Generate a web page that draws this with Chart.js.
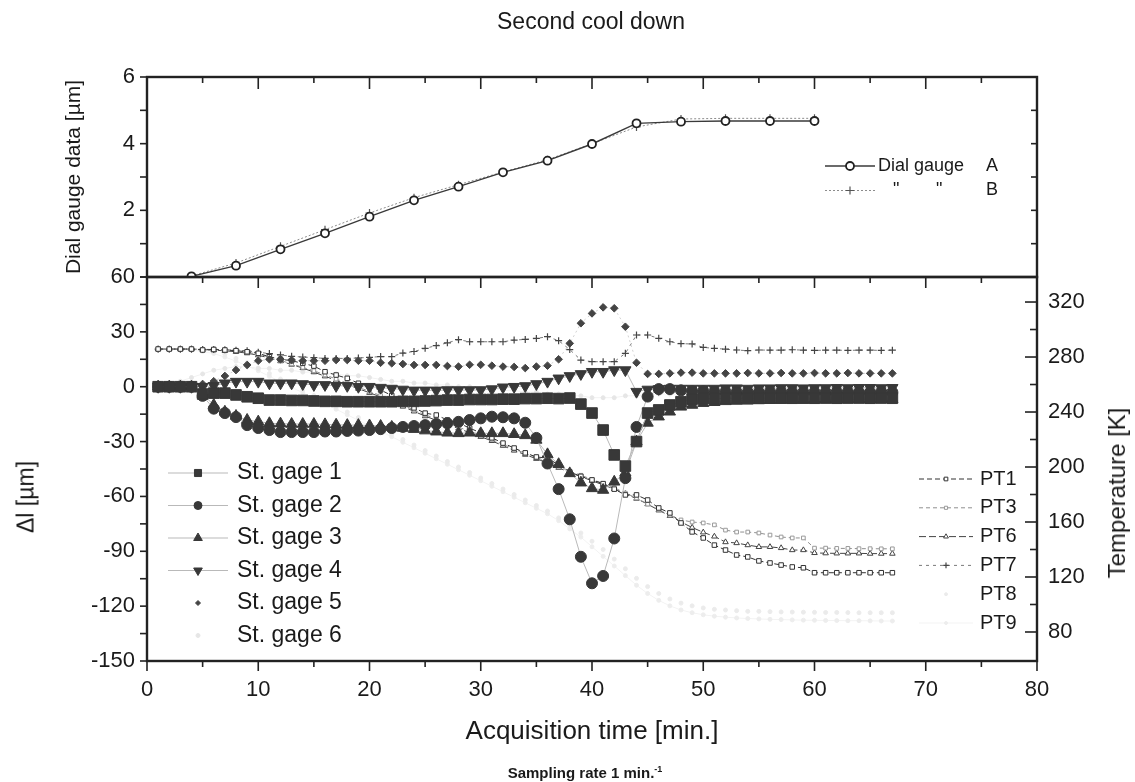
<!DOCTYPE html>
<html lang="en">
<head>
  <meta charset="UTF-8">
  <title>Second cool down</title>
  <script src="https://cdn.jsdelivr.net/npm/chart.js"></script>
  <style>
    body { margin: 0; background: #fff; }
    #page { position: relative; width: 1135px; height: 782px; font-family: "Liberation Sans", Arial, sans-serif; color: #1a1a1a; }
    canvas { position: absolute; left: 0; top: 0; }
    .txt { position: absolute; white-space: nowrap; transform: translate(-50%, -50%); }
    .vert { transform: translate(-50%, -50%) rotate(-90deg); }
  </style>
</head>
<body>
<div id="page">
  <canvas id="strainChart" width="1135" height="782"></canvas>
  <canvas id="dialChart" width="1135" height="300"></canvas>
  <div class="txt" style="left:591px; top:21px; font-size:23px;">Second cool down</div>
  <div class="txt vert" style="left:26px; top:497px; font-size:23px;">&Delta;l [&micro;m]</div>
  <div class="txt vert" style="left:1117px; top:493px; font-size:24px;">Temperature [K]</div>
  <div class="txt" style="left:585px; top:772px; font-size:15px; font-weight:bold;">Sampling rate 1 min.<sup style="font-size:9px;">-1</sup></div>
</div>

<script>
  // minutes of acquisition (one sample per minute)
  const sampleTime = [1, 2, 3, 4, 5, 6, 7, 8, 9, 10, 11, 12, 13, 14, 15, 16, 17, 18, 19, 20,
    21, 22, 23, 24, 25, 26, 27, 28, 29, 30, 31, 32, 33, 34, 35, 36, 37, 38, 39, 40,
    41, 42, 43, 44, 45, 46, 47, 48, 49, 50, 51, 52, 53, 54, 55, 56, 57, 58, 59, 60,
    61, 62, 63, 64, 65, 66, 67];
  const dialTime = [4, 8, 12, 16, 20, 24, 28, 32, 36, 40, 44, 48, 52, 56, 60];

  // dial gauges [um]
  const dialA = [0.02, 0.34, 0.83, 1.31, 1.81, 2.30, 2.71, 3.14, 3.49, 3.99, 4.61, 4.66, 4.68, 4.68, 4.68];
  const dialB = [0.03, 0.42, 0.92, 1.42, 1.92, 2.38, 2.77, 3.15, 3.52, 4.00, 4.50, 4.74, 4.76, 4.76, 4.76];

  // strain gages, delta l [um]
  const gage1 = [0, 0, 0, 0, -4, -3.5, -3.5, -4.5, -5.5, -6.3,
    -7.3, -7.3, -7.5, -7.5, -7.8, -8, -8, -8.2, -8.2, -8.2,
    -8.2, -8.2, -8, -8, -7.8, -7.6, -7.3, -7.3, -7, -7,
    -7, -6.8, -6.8, -6.5, -6.5, -6.3, -6.5, -6.2, -9.5, -14.4,
    -23.7, -37.3, -43.4, -30, -14.4, -12.7, -10, -8.2, -6.8, -6.5,
    -6.5, -6.3, -6.3, -6.5, -6.3, -6.2, -6.2, -6.3, -6.2, -6.3,
    -6.2, -6.3, -6.2, -6.2, -6.3, -6.2, -6.3];
  const gage2 = [0, 0, 0, 0, -5, -12, -14.4, -16.6, -21, -22.6,
    -23.7, -24.8, -24.8, -24.8, -24.8, -24.5, -24.5, -24.2, -24, -23.7,
    -23.2, -22.6, -22, -21.5, -21, -20.4, -20, -19.2, -18.2, -17.3,
    -16.4, -16.7, -17.3, -19.7, -28, -42, -56, -72.5, -93, -107.5,
    -103.5, -83, -50, -22, -5.4, -1.3, -1.3, -2, -2.5, -2.5,
    -2.8, -2.8, -3, -3, -3, -2.8, -2.8, -3, -3, -3,
    -3, -2.8, -2.8, -3, -3, -2.8, -3];
  const gage3 = [0, 0, 0, 0, -4, -10, -13.7, -16, -18.2, -19.1,
    -20, -20.2, -20.4, -20.4, -20.4, -20.6, -20.8, -21, -21, -21.2,
    -21.5, -22, -22.6, -23.2, -24, -24.6, -25.2, -25.5, -25.2, -25.5,
    -25.5, -25.5, -26, -26.6, -29.1, -37, -42.4, -47.4, -52.5, -55.6,
    -56.5, -52, -47, -30, -19.8, -16.4, -13.7, -11, -10, -9,
    -8.5, -8, -7.8, -7.6, -7.5, -7.4, -7.3, -7.2, -7.2, -7.1,
    -7, -7, -7, -6.9, -6.9, -6.8, -6.8];
  const gage4 = [0, 0, 0, 0, 0, 0.5, 1.9, 2.8, 2.8, 2.8,
    1.9, 1.9, 1.9, 1.5, 1, 1, 0.5, 0.5, 0, 0,
    -0.5, -1, -1.5, -2, -2, -2, -1.8, -1.8, -1.8, -1.8,
    -1.3, -0.3, 0, 0.4, 1.5, 2.8, 4.6, 5.9, 7, 8.2,
    8.2, 9.1, 9.1, -2.7, -1.5, -1.2, -1, -1, -1, -1,
    -1, -0.8, -0.8, -1, -0.8, -0.8, -0.7, -0.7, -0.8, -0.7,
    -0.7, -0.6, -0.7, -0.6, -0.6, -0.7, -0.6];
  const gage5 = [0, 0, 0, 0.5, 1.5, 3, 5.9, 9.1, 11.9, 14.2,
    15, 15, 14.6, 14.2, 14.2, 14.2, 14.6, 14.6, 14.2, 14.2,
    13.1, 12.8, 12.4, 11.9, 11.9, 11.9, 11.3, 11, 12, 12,
    11.5, 11, 10.8, 10.2, 11, 11.5, 15, 23.7, 34.7, 40.1,
    43.4, 42.9, 32.8, 13.1, 7, 7, 7.3, 7.7, 7.7, 7.3,
    7.3, 7.3, 7.3, 7.5, 7.3, 7.3, 7.5, 7.3, 7.3, 7.5,
    7.3, 7.3, 7.5, 7.3, 7.3, 7.3, 7.3];
  const gage6 = [0, 1, 3, 5, 7, 9, 10, 11, 11, 10,
    10, 9, 9, 8, 8, 7, 7, 6, 6, 5,
    4, 3, 3, 2, 2, 1, 1, 0, 0, -1,
    -1, -2, -2, -3, -3, -4, -4, -5, -5, -6,
    -6, -6, -5, -5, -4, -4, -4, -4, -4, -4,
    -4, -4, -3.8, -3.8, -3.6, -3.6, -3.5, -3.5, -3.4, -3.4,
    -3.4, -3.3, -3.3, -3.2, -3.2, -3.2, -3.2];

  // platinum thermometers [K]
  const pt1 = [285.8, 285.8, 285.8, 285.8, 285.1, 285.5, 285.1, 284.6, 283.8, 282.7,
    280.2, 278.4, 277.3, 275.4, 273.4, 269.3, 266.9, 264.5, 260.9, 258.4,
    256, 252, 248, 243, 239.2, 237.8, 234.2, 232.1, 228.3, 224.8,
    221.2, 217.4, 213.8, 210.3, 207.3, 206.5, 201.5, 196.4, 193.2, 190.6,
    187.9, 183.9, 179.7, 179.7, 176, 170.2, 166.6, 159.3, 152.8, 148.4,
    143.2, 139.6, 136, 134.6, 131.7, 130.2, 128.7, 127.3, 126.7, 123.1,
    123.1, 123.1, 123.1, 123.1, 123.1, 123.1, 123.1];
  const pt3 = [285.8, 285.8, 285.8, 285.8, 285.6, 285.4, 285, 284.4, 283.5, 282,
    280, 277.5, 275, 272.5, 270, 267, 264, 261, 258, 255,
    252, 248.5, 245, 241.5, 238, 235, 232, 229, 226, 223,
    220, 216.5, 213, 210, 207, 204, 200.5, 197, 194, 191,
    188, 185, 181, 177.5, 173, 169, 165, 161.5, 160, 159.3,
    157.9, 154.1, 152.7, 152.7, 152, 150.5, 149.1, 148.4, 148.4, 141,
    141, 140.8, 140.8, 140.6, 140.6, 140.5, 140.5];
  const pt6 = [285.8, 285.8, 285.8, 285.8, 285.4, 285, 284.5, 283.8, 282.8, 281.3,
    279.3, 277, 274.5, 272, 269, 266, 263, 260, 257, 254,
    251, 247.5, 244, 240.5, 237, 234, 231, 228, 225, 222,
    219, 215.5, 212, 209, 206, 203, 199.5, 196, 193, 190,
    187, 184, 180.5, 177, 173, 168.5, 164.5, 160, 156, 152.5,
    149.5, 145.4, 144.7, 143.2, 141.9, 141.9, 141.1, 139.6, 139.6, 137.5,
    137.3, 137.2, 137.2, 137.2, 137, 137, 137];
  const pt7 = [285.7, 285.7, 285.7, 285.7, 285.5, 285.5, 285.3, 285, 284.5, 283.5,
    282.5, 281.5, 280.5, 280, 279.5, 279, 279, 279, 279.3, 279.8,
    280.3, 280.3, 282.9, 284, 286.3, 288.3, 290.3, 292.6, 291.1, 291.1,
    291.1, 291.1, 292.3, 292.8, 293.5, 294.8, 291.9, 285.4, 277.8, 276.6,
    276.6, 276.6, 282.7, 296, 296, 293.6, 291.1, 289.7, 289.5, 287,
    286.3, 285.7, 285.1, 284.6, 285.1, 285, 285, 285.3, 285, 284.8,
    285, 285, 284.8, 285, 285, 284.8, 285];
  const pt8 = [285.8, 285.8, 285.8, 285.5, 285, 284, 282, 279, 276, 272,
    268, 264, 260, 256, 252, 248, 244, 240, 236, 232,
    228, 224, 220, 216, 212, 208, 204, 200, 196, 192,
    188, 184, 180, 176, 172, 168, 163, 158, 152, 146,
    140, 133, 126, 119, 113, 108, 104, 101, 99, 97.5,
    96.5, 96, 95.5, 95, 95, 94.8, 94.6, 94.5, 94.4, 94.3,
    94.2, 94.2, 94.1, 94, 94, 94, 94];
  const pt9 = [285.8, 285.8, 285.5, 285, 284, 282.5, 280, 277, 273.5, 270,
    266, 262, 258, 254, 250, 246, 242, 238, 234, 230,
    226, 222, 218, 214, 210, 206, 202, 198, 194, 190,
    186, 182, 178, 174, 170, 166, 161, 155, 149, 142,
    135, 128, 121, 114, 108, 103, 99, 96, 94, 92.5,
    91.5, 90.8, 90.2, 89.8, 89.5, 89.2, 89, 88.8, 88.6, 88.5,
    88.4, 88.3, 88.2, 88.2, 88.1, 88, 88];

  // tick labels
  const timeTicks = [0, 10, 20, 30, 40, 50, 60, 70, 80];
  const dialTicks = [2, 4, 6];
  const strainTicks = [-150, -120, -90, -60, -30, 0, 30, 60];
  const tempTicks = [80, 120, 160, 200, 240, 280, 320];

  const FONT = '"Liberation Sans", Arial, sans-serif';
  const INK = '#1a1a1a';
  Chart.defaults.font.family = FONT;
  Chart.defaults.color = INK;

  function pairs(xs, ys) {
    return xs.map((x, i) => ({ x: x, y: ys[i] }));
  }
  function fixedTicks(list) {
    return scale => { scale.ticks = list.map(v => ({ value: v })); };
  }

  // frame around the plot area plus minor/major tick marks (inward or outward)
  const frameTicks = {
    id: 'frameTicks',
    afterDatasetsDraw(chart, args, opts) {
      const ctx = chart.ctx;
      const a = chart.chartArea;
      ctx.save();
      ctx.strokeStyle = opts.color;
      ctx.lineWidth = opts.tickWidth;
      opts.marks.forEach(m => {
        const scale = chart.scales[m.scale];
        for (let v = m.from; v <= m.to + 1e-9; v += m.step) {
          const p = scale.getPixelForValue(v);
          const isMajor = Math.abs(v / m.major - Math.round(v / m.major)) < 1e-6;
          const len = isMajor ? m.len : m.minorLen;
          ctx.beginPath();
          if (m.side === 'top') { ctx.moveTo(p, a.top); ctx.lineTo(p, a.top + len * m.dir); }
          if (m.side === 'bottom') { ctx.moveTo(p, a.bottom); ctx.lineTo(p, a.bottom - len * m.dir); }
          if (m.side === 'left') { ctx.moveTo(a.left, p); ctx.lineTo(a.left + len * m.dir, p); }
          if (m.side === 'right') { ctx.moveTo(a.right, p); ctx.lineTo(a.right - len * m.dir, p); }
          ctx.stroke();
        }
      });
      ctx.lineWidth = opts.frameWidth;
      ctx.strokeRect(a.left, a.top, a.right - a.left, a.bottom - a.top);
      ctx.restore();
    }
  };

  // legend blocks drawn inside the plot, styled from the datasets
  const sampleLegend = {
    id: 'sampleLegend',
    afterDraw(chart, args, opts) {
      const ctx = chart.ctx;
      const drawPoint = Chart.helpers && Chart.helpers.drawPoint;
      opts.groups.forEach(g => {
        g.rows.forEach((row, i) => {
          const ds = chart.data.datasets[row.dataset];
          const y = g.y + i * g.gap;
          const mx = g.x + g.sample / 2;
          ctx.save();
          if (row.line !== false) {
            ctx.strokeStyle = row.lineColor || ds.borderColor;
            ctx.lineWidth = ds.borderWidth || 1;
            ctx.setLineDash(ds.borderDash || []);
            ctx.beginPath();
            ctx.moveTo(g.x, y);
            ctx.lineTo(g.x + g.sample, y);
            ctx.stroke();
            ctx.setLineDash([]);
          }
          ctx.fillStyle = ds.pointBackgroundColor;
          ctx.strokeStyle = ds.pointBorderColor;
          ctx.lineWidth = ds.pointBorderWidth || 1;
          if (drawPoint) {
            drawPoint(ctx, {
              pointStyle: ds.pointStyle,
              radius: row.radius || ds.pointRadius,
              rotation: ds.pointRotation || 0,
              borderWidth: ds.pointBorderWidth || 1
            }, mx, y);
          }
          ctx.fillStyle = INK;
          ctx.font = g.font;
          ctx.textBaseline = 'middle';
          ctx.textAlign = 'left';
          (row.parts || [[ds.label, g.textX]]).forEach(p => ctx.fillText(p[0], p[1], y));
          ctx.restore();
        });
      });
    }
  };

  const tickFont = { size: 22 };

  // ---------- top panel: dial gauges ----------
  new Chart(document.getElementById('dialChart'), {
    type: 'line',
    data: {
      datasets: [
        {
          label: 'Dial gauge A',
          data: pairs(dialTime, dialA),
          borderColor: '#3a3a3a', borderWidth: 1.4,
          pointStyle: 'circle', pointRadius: 4,
          pointBackgroundColor: '#fff', pointBorderColor: '#222', pointBorderWidth: 1.8
        },
        {
          label: 'Dial gauge B',
          data: pairs(dialTime, dialB),
          borderColor: '#8c8c8c', borderWidth: 1, borderDash: [2, 2],
          pointStyle: 'cross', pointRadius: 4,
          pointBackgroundColor: '#555', pointBorderColor: '#555', pointBorderWidth: 1.2
        }
      ]
    },
    options: {
      responsive: false,
      animation: false,
      events: [],
      layout: { padding: { top: 77, right: 98, bottom: 23, left: 0 } },
      scales: {
        x: { type: 'linear', min: 0, max: 80, display: false },
        y: {
          min: 0, max: 6,
          afterFit: s => { s.width = 147; },
          afterBuildTicks: fixedTicks(dialTicks),
          grid: { display: false },
          border: { display: false },
          ticks: { font: tickFont, padding: 4, color: INK },
          title: { display: true, text: 'Dial gauge data [\u00b5m]', font: { size: 21 }, color: INK, padding: { top: 62, bottom: 0 } }
        }
      },
      plugins: {
        legend: { display: false },
        tooltip: { enabled: false },
        frameTicks: {
          color: '#222', tickWidth: 1.6, frameWidth: 2.4,
          marks: [
            { scale: 'x', side: 'top', from: 0, to: 80, step: 5, major: 10, len: 12, minorLen: 6, dir: 1 },
            { scale: 'y', side: 'left', from: 0, to: 6, step: 1, major: 2, len: 7, minorLen: 7, dir: -1 },
            { scale: 'y', side: 'right', from: 1, to: 5, step: 1, major: 2, len: 6, minorLen: 6, dir: 1 }
          ]
        },
        sampleLegend: {
          groups: [
            {
              x: 825, sample: 50, y: 166, gap: 24.5, textX: 878, font: '18px ' + FONT,
              rows: [
                { dataset: 0, parts: [['Dial gauge', 878], ['A', 986]] },
                { dataset: 1, parts: [['"', 893], ['"', 936], ['B', 986]] }
              ]
            }
          ]
        }
      }
    },
    plugins: [frameTicks, sampleLegend]
  });

  // ---------- bottom panel: strain gages and thermometers ----------
  function gageSet(label, values, style, radius, rotation) {
    return {
      label: label, data: pairs(sampleTime, values), yAxisID: 'y', order: 1,
      borderColor: '#b9b9b9', borderWidth: 1,
      pointStyle: style, pointRadius: radius, pointRotation: rotation || 0,
      pointBackgroundColor: '#383838', pointBorderColor: '#383838', pointBorderWidth: 1
    };
  }

  new Chart(document.getElementById('strainChart'), {
    type: 'line',
    data: {
      datasets: [
        gageSet('St. gage 1', gage1, 'rect', 7.5),
        gageSet('St. gage 2', gage2, 'circle', 5.5),
        gageSet('St. gage 3', gage3, 'triangle', 6.5),
        gageSet('St. gage 4', gage4, 'triangle', 6.5, 180),
        {
          label: 'St. gage 5', data: pairs(sampleTime, gage5), yAxisID: 'y', order: 1,
          borderColor: '#d2d2d2', borderWidth: 1, borderDash: [2, 3],
          pointStyle: 'rectRot', pointRadius: 3.8,
          pointBackgroundColor: '#444', pointBorderColor: '#444', pointBorderWidth: 1
        },
        {
          label: 'St. gage 6', data: pairs(sampleTime, gage6), yAxisID: 'y', order: 3,
          borderColor: '#f2f2f2', borderWidth: 1,
          pointStyle: 'circle', pointRadius: 2,
          pointBackgroundColor: '#e6e6e6', pointBorderColor: '#e6e6e6', pointBorderWidth: 1
        },
        {
          label: 'PT1', data: pairs(sampleTime, pt1), yAxisID: 'yT', order: 2,
          borderColor: '#333', borderWidth: 1, borderDash: [5, 3],
          pointStyle: 'rect', pointRadius: 3.2,
          pointBackgroundColor: '#fff', pointBorderColor: '#333', pointBorderWidth: 1
        },
        {
          label: 'PT3', data: pairs(sampleTime, pt3), yAxisID: 'yT', order: 2,
          borderColor: '#8f8f8f', borderWidth: 1, borderDash: [4, 3],
          pointStyle: 'rect', pointRadius: 2.6,
          pointBackgroundColor: '#fff', pointBorderColor: '#9a9a9a', pointBorderWidth: 1
        },
        {
          label: 'PT6', data: pairs(sampleTime, pt6), yAxisID: 'yT', order: 2,
          borderColor: '#444', borderWidth: 1, borderDash: [7, 3],
          pointStyle: 'triangle', pointRadius: 3.2,
          pointBackgroundColor: '#fff', pointBorderColor: '#444', pointBorderWidth: 1
        },
        {
          label: 'PT7', data: pairs(sampleTime, pt7), yAxisID: 'yT', order: 2,
          borderColor: '#7a7a7a', borderWidth: 1, borderDash: [3, 4],
          pointStyle: 'cross', pointRadius: 3.5,
          pointBackgroundColor: '#444', pointBorderColor: '#444', pointBorderWidth: 1.2
        },
        {
          label: 'PT8', data: pairs(sampleTime, pt8), yAxisID: 'yT', order: 3,
          showLine: false, borderColor: '#ececec', borderWidth: 1,
          pointStyle: 'circle', pointRadius: 2,
          pointBackgroundColor: '#ebebeb', pointBorderColor: '#ebebeb', pointBorderWidth: 1
        },
        {
          label: 'PT9', data: pairs(sampleTime, pt9), yAxisID: 'yT', order: 3,
          borderColor: '#f3f3f3', borderWidth: 1,
          pointStyle: 'circle', pointRadius: 2,
          pointBackgroundColor: '#ededed', pointBorderColor: '#ededed', pointBorderWidth: 1
        }
      ]
    },
    options: {
      responsive: false,
      animation: false,
      events: [],
      layout: { padding: { top: 277, right: 0, bottom: 0, left: 0 } },
      scales: {
        x: {
          type: 'linear', min: 0, max: 80,
          afterFit: s => { s.height = 121; },
          afterBuildTicks: fixedTicks(timeTicks),
          grid: { display: false },
          border: { display: false },
          ticks: { font: tickFont, padding: 8, color: INK, maxRotation: 0 },
          title: { display: true, text: 'Acquisition time [min.]', font: { size: 26 }, color: INK, padding: { top: 0, bottom: 35 } }
        },
        y: {
          position: 'left', min: -150, max: 60,
          afterFit: s => { s.width = 147; },
          afterBuildTicks: fixedTicks(strainTicks),
          grid: { display: false },
          border: { display: false },
          ticks: { font: tickFont, padding: 4, color: INK }
        },
        yT: {
          position: 'right', min: 58.9, max: 338.2,
          afterFit: s => { s.width = 98; },
          afterBuildTicks: fixedTicks(tempTicks),
          grid: { display: false },
          border: { display: false },
          ticks: { font: tickFont, padding: 3, color: INK }
        }
      },
      plugins: {
        legend: { display: false },
        tooltip: { enabled: false },
        frameTicks: {
          color: '#222', tickWidth: 1.6, frameWidth: 2.4,
          marks: [
            { scale: 'x', side: 'top', from: 0, to: 80, step: 5, major: 10, len: 11, minorLen: 6, dir: 1 },
            { scale: 'x', side: 'bottom', from: 0, to: 80, step: 5, major: 10, len: 10, minorLen: 6, dir: -1 },
            { scale: 'y', side: 'left', from: -150, to: 60, step: 15, major: 30, len: 7, minorLen: 7, dir: -1 },
            { scale: 'yT', side: 'right', from: 80, to: 320, step: 20, major: 40, len: 12, minorLen: 7, dir: 1 }
          ]
        },
        sampleLegend: {
          groups: [
            {
              x: 168, sample: 60, y: 473, gap: 32.5, textX: 237, font: '23px ' + FONT,
              rows: [
                { dataset: 0, radius: 5 },
                { dataset: 1, radius: 4 },
                { dataset: 2, radius: 5 },
                { dataset: 3, radius: 5 },
                { dataset: 4, line: false, radius: 2.5 },
                { dataset: 5, line: false, radius: 2 }
              ]
            },
            {
              x: 919, sample: 54, y: 479, gap: 28.8, textX: 980, font: '20px ' + FONT,
              rows: [
                { dataset: 6, radius: 2.6 },
                { dataset: 7, radius: 2.2 },
                { dataset: 8, radius: 2.8 },
                { dataset: 9, radius: 2.8 },
                { dataset: 10, line: false, radius: 1.5 },
                { dataset: 11, radius: 1.5 }
              ]
            }
          ]
        }
      }
    },
    plugins: [frameTicks, sampleLegend]
  });
</script>
</body>
</html>
